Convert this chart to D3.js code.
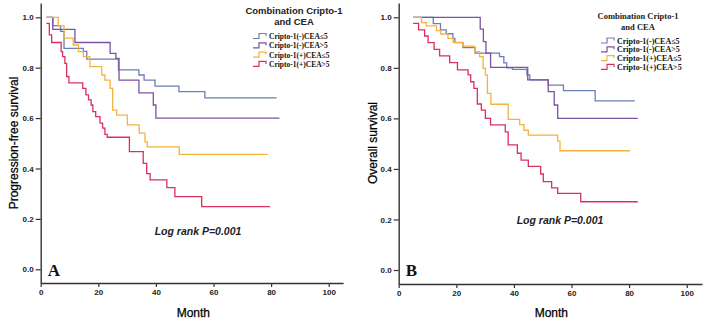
<!DOCTYPE html>
<html><head><meta charset="utf-8">
<script src="https://cdn.jsdelivr.net/npm/d3@7"></script>
<style>body{margin:0;background:#fff} svg{display:block}</style>
</head><body>
<svg id="chart" width="708" height="322"></svg>
<script>
const groups = ["Cripto-1(-)CEA≤5", "Cripto-1(-)CEA>5", "Cripto-1(+)CEA≤5", "Cripto-1(+)CEA>5"];
const colors = ["#6a7fb5", "#7d52a0", "#f2b43c", "#d9315e"];
const xTicks = [0, 20, 40, 60, 80, 100];
const yTicks = [0, 0.2, 0.4, 0.6, 0.8, 1.0];

// progression-free survival, [month, survival]
const pfsNegLow = [[2,1],[4.2,0.967],[6.9,0.944],[8.1,0.877],[14.8,0.865],[16.0,0.834],[27.0,0.791],[34.1,0.771],[35.9,0.751],[39.7,0.727],[48.0,0.705],[57.0,0.680],[81.9,0.680]];
const pfsNegHigh = [[2,1],[4.2,0.952],[11.9,0.9],[24.1,0.857],[26.1,0.837],[27.2,0.751],[34.1,0.70],[39.1,0.652],[40.0,0.6],[82.9,0.6]];
const pfsPosLow = [[2,1],[6.1,0.966],[8.1,0.917],[11.3,0.89],[13.1,0.864],[14.8,0.844],[17.1,0.804],[21.2,0.771],[22.3,0.751],[24.1,0.718],[25.0,0.632],[26.4,0.612],[30.1,0.573],[34.2,0.54],[36.2,0.506],[37.0,0.486],[48.1,0.456],[78.8,0.456]];
const pfsPosHigh = [[2,0.976],[3.0,0.93],[3.8,0.9],[7.1,0.864],[7.6,0.844],[8.4,0.817],[9.0,0.765],[9.8,0.74],[14.6,0.718],[15.7,0.692],[16.6,0.672],[17.5,0.652],[18.1,0.626],[19.1,0.606],[20.6,0.58],[21.5,0.56],[22.3,0.535],[23.1,0.524],[30.8,0.467],[35.6,0.42],[36.8,0.38],[38.0,0.355],[43.8,0.324],[46.6,0.288],[55.9,0.249],[79.6,0.249]];

// overall survival
const osNegLow = [[5,1],[12.0,0.975],[14.5,0.95],[16.5,0.935],[18.8,0.917],[19.5,0.9],[22.3,0.88],[26.5,0.858],[35,0.844],[36.5,0.82],[37.5,0.80],[39.5,0.794],[44.5,0.772],[45.5,0.752],[51.9,0.732],[57.2,0.71],[68.2,0.669],[82,0.669]];
const osNegHigh = [[5,1],[28.3,0.953],[29.4,0.904],[30.3,0.858],[31.9,0.802],[44.8,0.752],[51.9,0.706],[54.0,0.653],[55.2,0.60],[83,0.60]];
const osPosLow = [[5,1],[7.9,0.979],[9.6,0.966],[13.1,0.947],[14.6,0.934],[17.1,0.917],[18.9,0.901],[22.3,0.886],[26.4,0.864],[28.1,0.844],[29.3,0.798],[30.1,0.772],[30.8,0.699],[32.0,0.656],[38.0,0.596],[42.0,0.575],[43.5,0.553],[45.0,0.534],[55.2,0.51],[56.0,0.472],[80.3,0.472]];
const osPosHigh = [[5,0.976],[6.9,0.95],[9.0,0.926],[10.2,0.9],[12.3,0.873],[14.2,0.847],[17.7,0.821],[20.4,0.792],[24.1,0.772],[25.0,0.745],[26.1,0.719],[27.3,0.657],[28.7,0.633],[30.1,0.60],[31.9,0.574],[37.0,0.547],[38.0,0.495],[41.2,0.462],[42.5,0.435],[45.0,0.41],[49.3,0.38],[50.2,0.35],[53.1,0.325],[55.2,0.303],[63.2,0.27],[83,0.27]];

const svg = d3.select("#chart");
const sans = "Liberation Sans, Arial, sans-serif";
const serif = "Liberation Serif, Times New Roman, serif";

function panel(o) {
  const g = svg.append("g");
  const x = d3.scaleLinear().domain([0, o.xMax]).range([o.x0, o.x1]);
  const y = d3.scaleLinear().domain([o.yMin, o.yMax]).range([o.bottom, 3]);

  // curves
  const line = d3.line().x(d => x(d[0])).y(d => y(d[1])).curve(d3.curveStepAfter);
  g.append("g")
    .selectAll("path")
    .data(o.series)
    .join("path")
    .attr("d", d => line(d))
    .attr("fill", "none")
    .attr("stroke", (d, i) => colors[i])
    .attr("stroke-width", 1.3);

  // axes
  const ya = g.append("g")
    .attr("transform", `translate(${o.x0},0)`)
    .call(d3.axisLeft(y).tickValues(yTicks).tickFormat(d3.format(".1f")).tickSize(5).tickSizeOuter(0).tickPadding(2));
  const xa = g.append("g")
    .attr("transform", `translate(0,${o.bottom})`)
    .call(d3.axisBottom(x).tickValues(xTicks).tickSize(4).tickSizeOuter(0).tickPadding(2));
  [ya, xa].forEach(a => {
    a.select(".domain").attr("stroke", "#333").attr("stroke-width", 1.4);
    a.selectAll(".tick line").attr("stroke", "#333").attr("stroke-width", 1.2);
    a.selectAll("text")
      .attr("fill", "#222")
      .style("font-family", sans)
      .style("font-size", "8px")
      .style("font-weight", "bold");
  });

  // axis titles
  g.append("text")
    .attr("transform", `translate(${o.yLabelX},143) rotate(-90)`)
    .attr("text-anchor", "middle")
    .style("font-family", sans)
    .style("font-size", "12px")
    .attr("fill", "#000")
    .attr("stroke", "#000").attr("stroke-width", 0.25)
    .text(o.yLabel);
  g.append("text")
    .attr("x", x(53)).attr("y", 317)
    .attr("text-anchor", "middle")
    .style("font-family", sans)
    .style("font-size", "12px")
    .attr("fill", "#000")
    .attr("stroke", "#000").attr("stroke-width", 0.25)
    .text("Month");

  // log rank
  g.append("text")
    .attr("x", o.logX).attr("y", o.logY)
    .attr("text-anchor", "middle")
    .style("font-family", sans)
    .style("font-size", "10.5px")
    .style("font-style", "italic")
    .style("font-weight", "bold")
    .attr("fill", "#222")
    .text("Log rank P=0.001");

  // panel letter
  g.append("text")
    .attr("x", o.x0 + 7).attr("y", 276)
    .style("font-family", serif)
    .style("font-size", "17px")
    .style("font-weight", "bold")
    .attr("fill", "#111")
    .text(o.letter);

  // legend
  const lg = g.append("g");
  ["Combination Cripto-1", "and CEA"].forEach((t, i) => {
    lg.append("text")
      .attr("x", o.legTitleX).attr("y", o.legTitleY + i * 11)
      .attr("text-anchor", "middle")
      .style("font-family", o.titleFont)
      .style("font-size", o.titleSize)
      .style("font-weight", "bold")
      .attr("fill", "#222")
      .text(t);
  });
  const items = lg.selectAll("g.item")
    .data(groups)
    .join("g")
    .attr("class", "item")
    .attr("transform", (d, i) => `translate(${o.legX},${o.legY + i * o.legStep})`);
  items.append("path")
    .attr("d", "M0,2.5H6V-2.5H13V0")
    .attr("fill", "none")
    .attr("stroke", (d, i) => colors[i])
    .attr("stroke-width", 1.2);
  items.append("text")
    .attr("x", 16).attr("y", 3)
    .style("font-family", serif)
    .style("font-size", o.itemSize)
    .style("font-weight", "bold")
    .attr("fill", "#111")
    .text(d => d);
}

panel({
  x0: 40.7, x1: 343.1, xMax: 105, bottom: 283, yMin: -0.0544, yMax: 1.0567,
  series: [pfsNegLow, pfsNegHigh, pfsPosLow, pfsPosHigh],
  yLabel: "Progression-free survival", yLabelX: 18,
  logX: 198, logY: 235, letter: "A",
  legTitleX: 294, legTitleY: 14, titleFont: sans, titleSize: "9.5px",
  legX: 253, legY: 36, legStep: 9.3, itemSize: "7.5px"
});

panel({
  x0: 398.7, x1: 702, xMax: 105.3, bottom: 284, yMin: -0.0554, yMax: 1.0566,
  series: [osNegLow, osNegHigh, osPosLow, osPosHigh],
  yLabel: "Overall survival", yLabelX: 377,
  logX: 560, logY: 224, letter: "B",
  legTitleX: 638, legTitleY: 19, titleFont: serif, titleSize: "8.5px",
  legX: 601, legY: 40.5, legStep: 8.8, itemSize: "8px"
});
</script>
</body></html>
